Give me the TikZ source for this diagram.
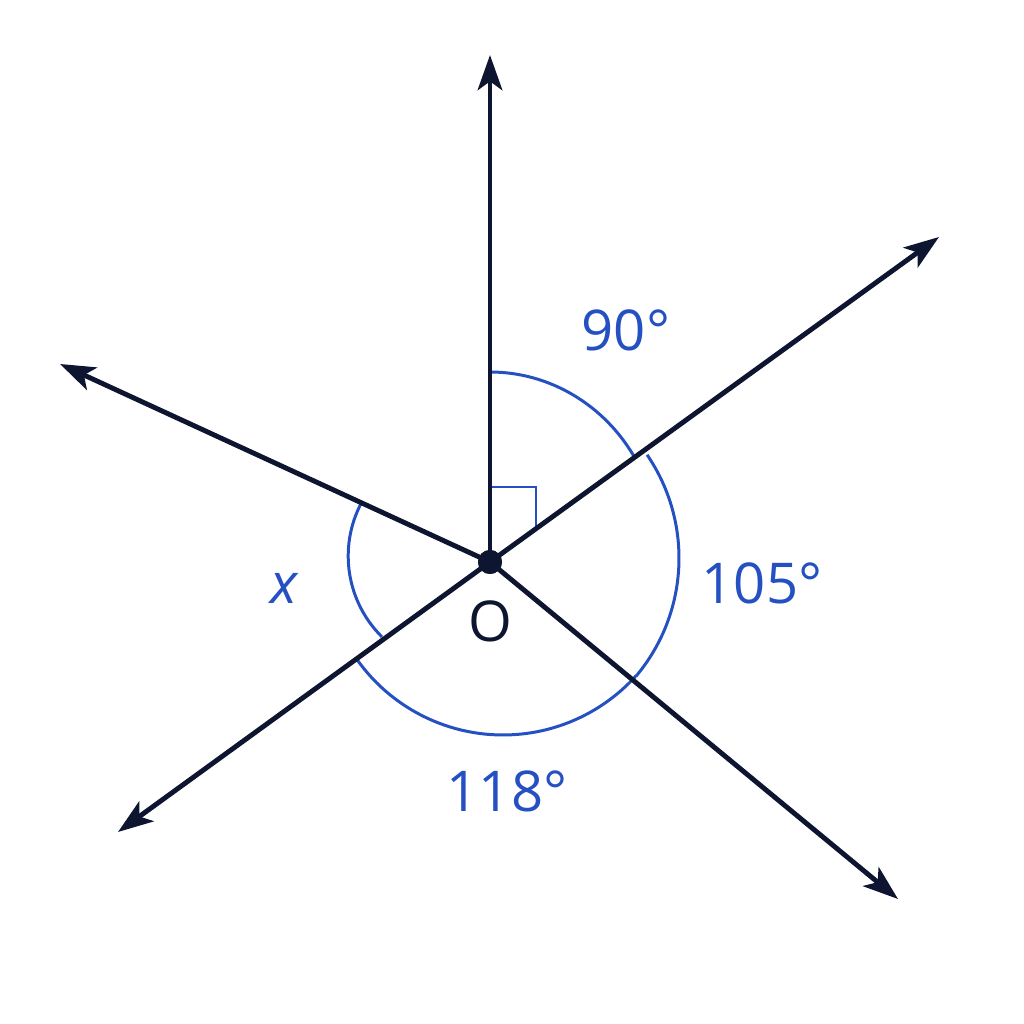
\documentclass[tikz,border=0pt]{standalone}
\usepackage{fontspec}
\setmainfont{Open Sans}
\usetikzlibrary{arrows.meta}
\definecolor{ink}{HTML}{0E1530}
\definecolor{angblue}{HTML}{2550C2}
\begin{document}
\begin{tikzpicture}
    \tikzset{ray/.style={draw=ink, line width=1.4pt, -{Stealth[length=10pt, width=7pt, inset=2.5pt]}}}
    \tikzset{anglearc/.style={draw=angblue, line width=0.85pt}}
    \tikzset{lbl/.style={text=angblue, inner sep=0pt, font=\fontsize{16}{19}\selectfont}}
    \useasboundingbox (0,0) rectangle (10.24,10.24);

    \node[circle, fill=ink, inner sep=0pt, minimum size=0.24cm] (O) at (4.90,4.62) {};
    \coordinate (Up) at (4.90,9.69);
    \coordinate (UpRight) at (9.39,7.87);
    \coordinate (UpLeft) at (0.60,6.60);
    \coordinate (DownLeft) at (1.18,1.92);
    \coordinate (DownRight) at (8.98,1.25);

    % angle marks, one piece per angle
    \draw[anglearc] (4.62,4.68) ++(152.3:1.138) arc[start angle=152.3, end angle=225.3, radius=1.138];
    \draw[anglearc] (5.03,4.68) ++(215.5:1.79) arc[start angle=215.5, end angle=318, radius=1.79];
    \draw[anglearc] (4.955,4.658) ++(-40:1.835) arc[start angle=-40, end angle=34.3, radius=1.835];
    \draw[anglearc] (4.90,4.75) ++(30.9:1.69 and 1.77) arc[start angle=30.9, end angle=90, x radius=1.69, y radius=1.77];
    \draw[anglearc] (4.90,5.37) -- (5.36,5.37) -- (5.36,4.94);

    \foreach \t in {Up,UpRight,UpLeft,DownLeft,DownRight}{
        \draw[ray] (O.center) -- (\t);
    }
    \node[circle, fill=ink, inner sep=0pt, minimum size=0.24cm] at (O) {};

    \node[lbl] (A90) at (6.26,6.94) {90°};
    \node[lbl] (A105) at (7.62,4.41) {105°};
    \node[lbl] (A118) at (5.07,2.33) {118°};
    \node[lbl] (Ax) at (2.84,4.36) {\itshape x};
    \node[lbl, text=ink] (Olbl) at (4.90,4.03) {O};
\end{tikzpicture}
\end{document}
